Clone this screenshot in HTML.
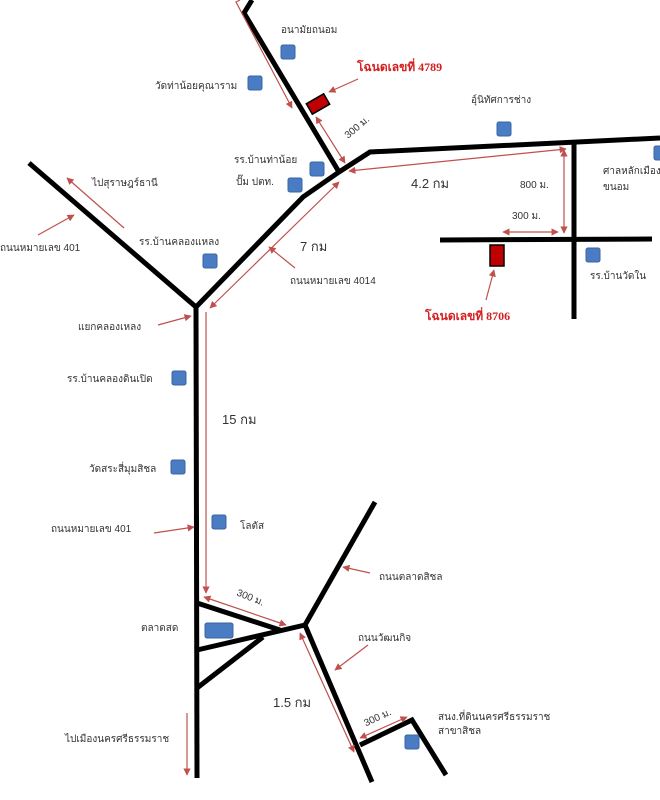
<!DOCTYPE html>
<html><head><meta charset="utf-8"><style>
html,body{margin:0;padding:0;background:#fff;}
svg{display:block;}
text{font-family:"Liberation Sans","Noto Sans CJK SC","WenQuanYi Zen Hei",sans-serif;font-size:10px;fill:#333;}
.r{fill:#d42020;font-family:"Liberation Serif","Noto Serif CJK SC",serif;font-weight:bold;font-size:12px;}
.b{font-size:13px;}
</style></head><body>
<svg width="660" height="800" viewBox="0 0 660 800" xmlns="http://www.w3.org/2000/svg">
<defs>
<marker id="a" viewBox="0 0 10 10" refX="9" refY="5" markerWidth="6" markerHeight="6" orient="auto-start-reverse"><path d="M0,0 L10,5 L0,10 z" fill="#c0504d"/></marker>
</defs>
<g stroke="#000" stroke-width="5" fill="none" stroke-linejoin="miter">
<polyline points="252,0 244,13 339,172"/>
<polyline points="339,172 370,152 660,138"/>
<line x1="574" y1="140" x2="574" y2="319"/>
<line x1="440" y1="240" x2="652" y2="239"/>
<polyline points="339,172 303,197 196,307"/>
<line x1="29" y1="163" x2="196" y2="307"/>
<line x1="196" y1="305" x2="197" y2="778"/>
<line x1="197" y1="603" x2="280" y2="630"/>
<line x1="197" y1="650" x2="305" y2="625"/>
<line x1="197" y1="688" x2="263" y2="637"/>
<line x1="305" y1="625" x2="375" y2="502"/>
<line x1="305" y1="625" x2="372" y2="782"/>
<polyline points="360,745 412,720 446,775"/>
</g>
<rect x="195" y="516" width="4" height="24" fill="#000"/>
<g fill="#4a7cc4" stroke="#3a64a0" stroke-width="1">
<rect x="281" y="45" width="14" height="14" rx="2"/>
<rect x="248" y="76" width="14" height="14" rx="2"/>
<rect x="497" y="122" width="14" height="14" rx="2"/>
<rect x="310" y="162" width="14" height="14" rx="2"/>
<rect x="288" y="178" width="14" height="14" rx="2"/>
<rect x="203" y="254" width="14" height="14" rx="2"/>
<rect x="654" y="146" width="14" height="14" rx="2"/>
<rect x="586" y="248" width="14" height="14" rx="2"/>
<rect x="172" y="371" width="14" height="14" rx="2"/>
<rect x="171" y="460" width="14" height="14" rx="2"/>
<rect x="212" y="515" width="14" height="14" rx="2"/>
<rect x="205" y="623" width="28" height="15" rx="2"/>
<rect x="405" y="735" width="14" height="14" rx="2"/>
</g>
<rect x="308" y="98" width="20" height="12" fill="#c00000" stroke="#000" stroke-width="1.5" transform="rotate(-30 318 104)"/>
<rect x="490" y="245" width="14" height="21" fill="#c00000" stroke="#000" stroke-width="1.5"/>
<g stroke="#c0504d" stroke-width="1.2" fill="none">
<polyline points="240,0 236,2 292,108" marker-end="url(#a)"/>
<line x1="316" y1="117" x2="345" y2="163" marker-start="url(#a)" marker-end="url(#a)"/>
<line x1="349" y1="171" x2="566" y2="149" marker-start="url(#a)" marker-end="url(#a)"/>
<line x1="564" y1="150" x2="564" y2="233" marker-start="url(#a)" marker-end="url(#a)"/>
<line x1="503" y1="232" x2="558" y2="232" marker-start="url(#a)" marker-end="url(#a)"/>
<line x1="210" y1="308" x2="339" y2="182" marker-start="url(#a)" marker-end="url(#a)"/>
<line x1="295" y1="268" x2="269" y2="247" marker-end="url(#a)"/>
<line x1="124" y1="228" x2="67" y2="178" marker-end="url(#a)"/>
<line x1="38" y1="235" x2="74" y2="215" marker-end="url(#a)"/>
<line x1="158" y1="325" x2="191" y2="316" marker-end="url(#a)"/>
<line x1="358" y1="79" x2="329" y2="92" marker-end="url(#a)"/>
<line x1="486" y1="300" x2="494" y2="270" marker-end="url(#a)"/>
<line x1="206" y1="312" x2="206" y2="593" marker-end="url(#a)"/>
<line x1="154" y1="533" x2="194" y2="527" marker-end="url(#a)"/>
<line x1="204" y1="597" x2="286" y2="625" marker-start="url(#a)" marker-end="url(#a)"/>
<line x1="370" y1="573" x2="343" y2="567" marker-end="url(#a)"/>
<line x1="368" y1="645" x2="335" y2="670" marker-end="url(#a)"/>
<line x1="300" y1="633" x2="354" y2="752" marker-start="url(#a)" marker-end="url(#a)"/>
<line x1="360" y1="738" x2="407" y2="717" marker-start="url(#a)" marker-end="url(#a)"/>
<line x1="187" y1="713" x2="187" y2="775" marker-end="url(#a)"/>
</g>
<text x="281" y="33">อนามัยถนอม</text>
<text class="r" x="357" y="71">โฉนดเลขที่ 4789</text>
<text x="155" y="89">วัดท่าน้อยคุณาราม</text>
<text x="471" y="103">อุ์นิทัศการช่าง</text>
<text x="344" y="136" font-size="8" transform="rotate(-40 350 132)">300 ม.</text>
<text x="234" y="163">รร.บ้านท่าน้อย</text>
<text x="236" y="185">ปั๊ม ปตท.</text>
<text class="b" x="411" y="188">4.2 กม</text>
<text x="520" y="188" font-size="9">800 ม.</text>
<text x="512" y="219" font-size="9">300 ม.</text>
<text x="603" y="174">ศาลหลักเมือง</text>
<text x="603" y="190">ขนอม</text>
<text x="92" y="186">ไปสุราษฎร์ธานี</text>
<text x="0" y="251">ถนนหมายเลข 401</text>
<text x="139" y="245">รร.บ้านคลองแหลง</text>
<text class="b" x="300" y="251">7 กม</text>
<text x="290" y="284">ถนนหมายเลข 4014</text>
<text x="590" y="279">รร.บ้านวัดใน</text>
<text class="r" x="425" y="320">โฉนดเลขที่ 8706</text>
<text x="78" y="330">แยกคลองเหลง</text>
<text x="67" y="382">รร.บ้านคลองดินเปิด</text>
<text class="b" x="222" y="424">15 กม</text>
<text x="89" y="472">วัดสระสี่มุมสิชล</text>
<text x="51" y="532">ถนนหมายเลข 401</text>
<text x="240" y="529">โลตัส</text>
<text x="379" y="580">ถนนตลาดสิชล</text>
<text x="235" y="600" font-size="8" transform="rotate(22 248 600)">300 ม.</text>
<text x="141" y="631">ตลาดสด</text>
<text x="358" y="641">ถนนวัฒนกิจ</text>
<text class="b" x="273" y="707">1.5 กม</text>
<text x="364" y="722" font-size="8" transform="rotate(-25 375 720)">300 ม.</text>
<text x="438" y="720">สนง.ที่ดินนครศรีธรรมราช</text>
<text x="438" y="734">สาขาสิชล</text>
<text x="65" y="742">ไปเมืองนครศรีธรรมราช</text>
</svg>
</body></html>
